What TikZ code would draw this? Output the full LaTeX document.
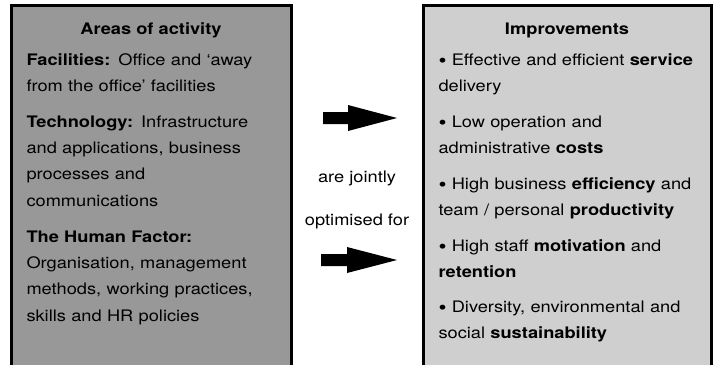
\documentclass[tikz,border=0pt]{standalone}
\usepackage{fontspec}
\setmainfont{TeX Gyre Heros}[FakeStretch=1.15]
\definecolor{actgray}{RGB}{152,152,152}
\definecolor{impgray}{RGB}{207,207,207}
\newcommand{\blt}{\raisebox{-0.25ex}{\scalebox{1.25}{\textbullet}}}
\tikzset{every picture/.style={line width=0.75pt}}
\tikzset{
  panel/.style={draw=black, line width=2.25pt},
  heading/.style={anchor=base, inner sep=0pt, font=\fontsize{11.9}{19.8}\selectfont\bfseries},
  para/.style={anchor=base west, inner sep=0pt, text width=215pt, align=left, font=\fontsize{11.9}{19.8}\selectfont},
  midtext/.style={anchor=base, inner sep=0pt, font=\fontsize{11.9}{19.8}\selectfont}
}

\begin{document}
\begin{tikzpicture}[x=0.75pt,y=0.75pt,yscale=-1,xscale=1]
\useasboundingbox (0,0) rectangle (716,364);

%Shape: Rectangle [id:areas]
\draw [panel, fill=actgray] (11.5,5.5) rectangle (291.5,372);
%Shape: Rectangle [id:improvements]
\draw [panel, fill=impgray] (423.5,5.5) rectangle (711.5,372);

%Shape: Arrow [id:upperarrow]
\fill [black] (323,112) -- (348,112) -- (348,105) -- (397,118) -- (348,131) -- (348,124) -- (323,124) -- cycle ;
%Shape: Arrow [id:lowerarrow]
\fill [black] (321,254) -- (347,254) -- (347,247) -- (397,260) -- (347,273) -- (347,266) -- (321,266) -- cycle ;

% Text Node
\node (areas) at (151,34) [heading] {Areas of activity};
% Text Node
\node (facilities) at (26,65) [para] {\textbf{Facilities:} Office and `away\\from the office' facilities};
% Text Node
\node (technology) at (26,127) [para] {\textbf{Technology:} Infrastructure\\and applications, business\\processes and\\communications};
% Text Node
\node (human) at (26,242) [para] {\textbf{The Human Factor:}\\Organisation, management\\methods, working practices,\\skills and HR policies};

% Text Node
\node (jointly) at (357,182) [midtext] {are jointly};
% Text Node
\node (optimised) at (357,225) [midtext] {optimised for};

% Text Node
\node (improv) at (567,34) [heading] {Improvements};
% Text Node
\node (service) at (438,65) [para] {\blt\ Effective and efficient \textbf{service}\\delivery};
% Text Node
\node (costs) at (438,127) [para] {\blt\ Low operation and\\administrative \textbf{costs}};
% Text Node
\node (efficiency) at (438,189) [para] {\blt\ High business \textbf{efficiency} and\\team / personal \textbf{productivity}};
% Text Node
\node (motivation) at (438,251) [para] {\blt\ High staff \textbf{motivation} and\\\textbf{retention}};
% Text Node
\node (sustain) at (438,312) [para] {\blt\ Diversity, environmental and\\social \textbf{sustainability}};

\end{tikzpicture}
\end{document}
